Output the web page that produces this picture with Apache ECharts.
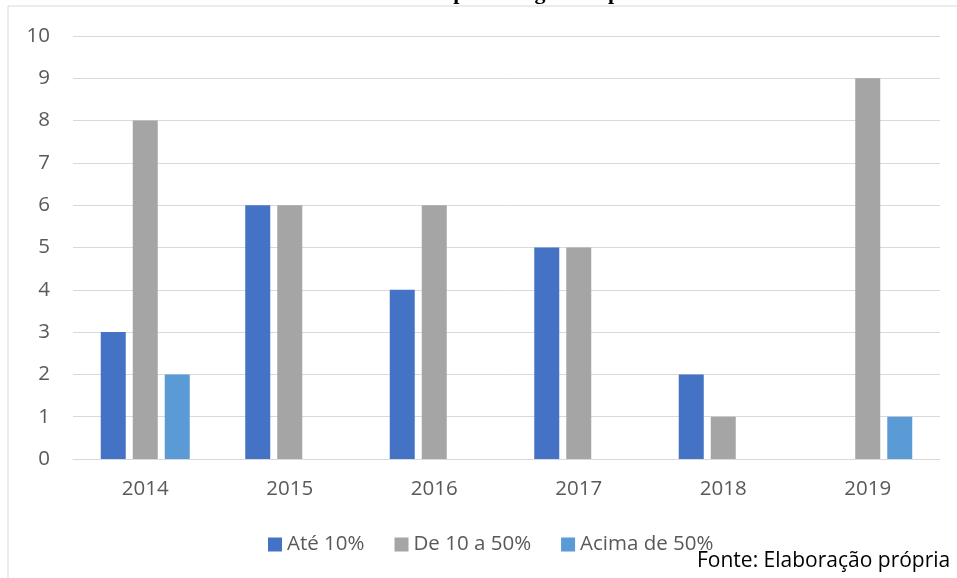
<!DOCTYPE html>
<html>
<head>
<meta charset="utf-8">
<script src="https://cdn.jsdelivr.net/npm/echarts@6/dist/echarts.min.js"></script>
<style>
  html, body { margin: 0; padding: 0; background: #fff; }
  #chart { width: 957px; height: 578px; }
</style>
</head>
<body>
<div id="chart"></div>
<script>
var years = ['2014', '2015', '2016', '2017', '2018', '2019'];
var ate10 = [3, 6, 4, 5, 2, 0];
var de10a50 = [8, 6, 6, 5, 1, 9];
var acima50 = [2, 0, 0, 0, 0, 1];
var seriesNames = ['Até 10%', 'De 10 a 50%', 'Acima de 50%'];
var colors = ['#4472C4', '#A5A5A5', '#5B9BD5'];

var font = 'Open Sans';
var myChart = echarts.init(document.getElementById('chart'));

var option = {
	animation: false,
	color: colors,
	textStyle: { fontFamily: font },
	grid: { left: 73, right: 17, top: 36, height: 423 },
	legend: {
		top: 534,
		left: 268,
		padding: 0,
		itemWidth: 14,
		itemHeight: 14,
		itemGap: 30,
		icon: 'rect',
		textStyle: { fontSize: 20.5, color: '#595959', fontFamily: font },
		data: seriesNames
	},
	graphic: [
		{
			type: 'rect',
			shape: { x: 8, y: 6, width: 960, height: 580 },
			style: { fill: 'none', stroke: '#D9D9D9', lineWidth: 1 },
			silent: true
		},
		{
			type: 'text',
			x: 478,
			y: 4,
			style: {
				text: 'Gráfico 1: Número de atividades em percentagem no período entre 2014 e 2019',
				font: 'bold 22px "Liberation Serif"',
				fill: '#000',
				align: 'center',
				verticalAlign: 'bottom'
			}
		},
		{
			type: 'text',
			x: 697,
			y: 561,
			style: {
				text: 'Fonte: Elaboração própria',
				font: '21px "' + font + '"',
				fill: '#000',
				verticalAlign: 'middle'
			}
		}
	],
	xAxis: {
		type: 'category',
		data: years,
		axisTick: { show: false },
		axisLine: { lineStyle: { color: '#D9D9D9' } },
		axisLabel: { fontSize: 20.5, color: '#595959', margin: 20 }
	},
	yAxis: {
		type: 'value',
		min: 0,
		max: 10,
		interval: 1,
		axisLabel: { fontSize: 20.5, color: '#595959', margin: 23 },
		splitLine: { lineStyle: { color: '#D9D9D9', width: 1 } }
	},
	series: [
		{ name: seriesNames[0], type: 'bar', data: ate10, barWidth: 25, barGap: '28%' },
		{ name: seriesNames[1], type: 'bar', data: de10a50, barWidth: 25, barGap: '28%' },
		{ name: seriesNames[2], type: 'bar', data: acima50, barWidth: 25, barGap: '28%' }
	]
};
myChart.setOption(option);
</script>
</body>
</html>
